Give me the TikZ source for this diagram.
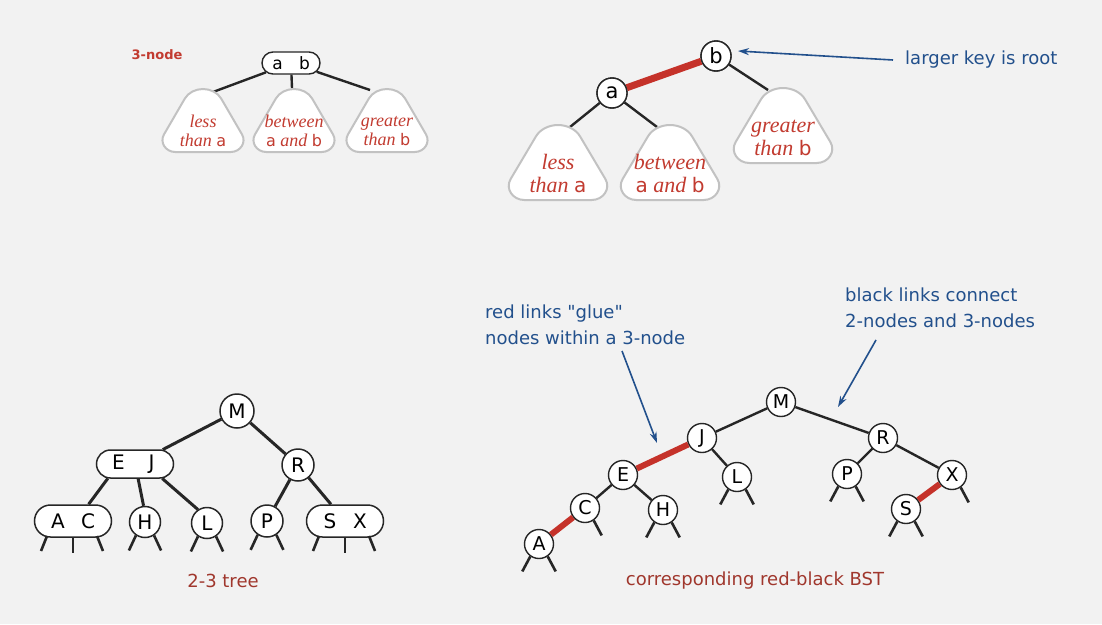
\documentclass[tikz,border=0pt]{standalone}
\usepackage{fontspec}
\newfontfamily\dejavu{DejaVu Sans}
\newfontfamily\serifit{Liberation Serif}
\usetikzlibrary{arrows.meta,shapes.misc,calc}
\definecolor{bg}{HTML}{F2F2F2}
\definecolor{bluec}{HTML}{22508C}
\definecolor{linkred}{HTML}{C5322A}
\definecolor{textred}{HTML}{C23B30}
\definecolor{labred}{HTML}{A0372D}
\definecolor{blobgray}{HTML}{C2C2C2}
\newcommand{\twokeys}[3]{\makebox[0pt]{#1}\hspace{#3pt}\makebox[0pt]{#2}}
% bell-shaped subtree blob: cx, bottom, xscale, yscale
\newcommand{\blob}[4]{%
  \begin{scope}[shift={(#1,#2)}, xscale=#3, yscale=#4]
  \draw[blobst] (0,0) -- (25.9,0) .. controls (35,0) and (40.8,-9.7) .. (36.4,-17.7)
     -- (17,-53.4) .. controls (13.7,-59.5) and (6.95,-63) .. (0,-63)
     .. controls (-6.95,-63) and (-13.7,-59.5) .. (-17,-53.4)
     -- (-36.4,-17.7) .. controls (-40.8,-9.7) and (-35,0) .. (-25.9,0) -- cycle;
  \end{scope}}
\newcommand{\skS}[1]{{\upshape\dejavu\fontsize{16}{16}\selectfont #1}}
\newcommand{\skB}[1]{{\upshape\dejavu\fontsize{20}{20}\selectfont #1}}
\tikzset{
  edge/.style={line width=2.4pt, draw=black!85},
  edgeb/.style={line width=3pt, draw=black!85},
  redlink/.style={line width=6pt, draw=linkred},
  redlinkT/.style={line width=7pt, draw=linkred},
  stubline/.style={line width=2.6pt, draw=black!85},
  blobst/.style={draw=blobgray, line width=2pt, fill=white},
  circT/.style={circle, draw=black!85, line width=1.4pt, fill=white, inner sep=0pt, minimum size=30pt, font=\dejavu\fontsize{21}{21}\selectfont},
  circL/.style={circle, draw=black!85, line width=1.5pt, fill=white, inner sep=0pt, minimum size=32pt, font=\dejavu\fontsize{20}{20}\selectfont},
  circR/.style={circle, draw=black!85, line width=1.4pt, fill=white, inner sep=0pt, minimum size=29pt, font=\dejavu\fontsize{19}{19}\selectfont},
  rrL/.style={rounded rectangle, draw=black!85, line width=1.5pt, fill=white, inner sep=0pt, minimum width=77pt, minimum height=30pt, font=\dejavu\fontsize{20}{20}\selectfont},
  rrT/.style={rounded rectangle, draw=black!85, line width=1.4pt, fill=white, inner sep=0pt, minimum width=58pt, minimum height=22pt, font=\dejavu\fontsize{17}{17}\selectfont},
  blobtxtS/.style={align=center, text=textred, font=\serifit\itshape\fontsize{18}{19}\selectfont, inner sep=0pt},
  blobtxtB/.style={align=center, text=textred, font=\serifit\itshape\fontsize{22}{23}\selectfont, inner sep=0pt},
  bluetext/.style={text=bluec, font=\dejavu\fontsize{18}{26}\selectfont, inner sep=0pt, align=left},
  labtext/.style={text=labred, font=\dejavu\fontsize{18}{18}\selectfont, inner sep=0pt},
  lab3/.style={text=textred, font=\dejavu\bfseries\fontsize{13}{13}\selectfont, inner sep=0pt},
  barrow/.style={draw=bluec, line width=1.6pt, -{Stealth[length=11pt,width=7pt]}}
}
\begin{document}
\begin{tikzpicture}[x=1pt,y=-1pt]
\useasboundingbox (0,0) rectangle (1102,624);
\fill[bg] (0,0) rectangle (1102,624);

% ---------- top-left: 3-node ----------
\node[lab3] (three) at (157,55) {3-node};
\coordinate (tlA) at (213,92);
\coordinate (tlB) at (292,88);
\coordinate (tlC) at (370,90);
\node[rrT] (ab) at (291,63) {\twokeys{a}{b}{27}};
\draw[edge] (ab) -- (tlA);
\draw[edge] (ab) -- (tlB);
\draw[edge] (ab) -- (tlC);
\blob{203}{152}{1.07}{1.0}
\blob{294}{152}{1.07}{1.0}
\blob{387}{152}{1.07}{1.0}
\node[blobtxtS] (tl1) at (203,131) {less\\than \skS{a}};
\node[blobtxtS] (tl2) at (294,131) {between\\\skS{a} and \skS{b}};
\node[blobtxtS] (tl3) at (387,131) {greater\\than \skS{b}};

% ---------- top-right: BST form ----------
\node[circT] (a) at (612,93) {a};
\node[circT] (b) at (716,56) {b};
\coordinate (trA) at (570,127);
\coordinate (trB) at (657,127);
\coordinate (trC) at (768,90);
\draw[edge] (a) -- (trA);
\draw[edge] (a) -- (trB);
\draw[edge] (b) -- (trC);
\draw[redlinkT] (a) -- (b);
\node[circT] at (a) {a};
\node[circT] at (b) {b};
\blob{558}{200}{1.3}{1.19}
\blob{670}{200}{1.3}{1.19}
\blob{783}{163}{1.3}{1.19}
\node[blobtxtB] (tr1) at (558,174) {less\\than \skB{a}};
\node[blobtxtB] (tr2) at (670,174) {between\\\skB{a} and \skB{b}};
\node[blobtxtB] (tr3) at (783,138) {greater\\than \skB{b}};
\coordinate (lkS) at (893,60);
\coordinate (lkE) at (738,51);
\draw[barrow] (lkS) -- (lkE);
\node[bluetext, anchor=west] (lk) at (905,60) {larger key is root};

% ---------- bottom-left: 2-3 tree ----------
\node[circL, minimum size=34pt] (M) at (237,411) {M};
\node[rrL, minimum height=28pt] (EJ) at (135,464) {\twokeys{E}{J}{33}};
\node[circL] (R) at (298,465) {R};
\node[rrL, minimum height=32pt] (AC) at (73,521) {\twokeys{A}{C}{30}};
\node[circL, minimum size=31pt] (H) at (145,522) {H};
\node[circL, minimum size=31pt] (L) at (207,523) {L};
\node[circL] (P) at (267,521) {P};
\node[rrL, minimum height=32pt] (SX) at (345,521) {\twokeys{S}{X}{30}};
\draw[edgeb] (M) -- (EJ);
\draw[edgeb] (M) -- (R);
\draw[edgeb] (EJ.-152) -- (AC.47);
\draw[edgeb] (EJ.-78) -- (H.95);
\draw[edgeb] (EJ.-28) -- (L.124);
\draw[edgeb] (R) -- (P);
\draw[edgeb] (R) -- (SX);
\foreach \n in {AC,SX}{
  \draw[stubline] ($(\n)+(-26,15)$) -- ++(-6,15);
  \draw[stubline] ($(\n)+(0,16)$) -- ++(0,16);
  \draw[stubline] ($(\n)+(24,15)$) -- ++(6,15);
}
\foreach \n in {H,L,P}{
  \draw[stubline] (\n.-124) -- ++(-7,15);
  \draw[stubline] (\n.-56) -- ++(7,15);
}
\node[labtext] (t23) at (223,581) {2-3 tree};

% ---------- bottom-right: red-black BST ----------
\node[circR] (rM) at (781,402) {M};
\node[circR] (rJ) at (702,438) {J};
\node[circR] (rR) at (883,438) {R};
\node[circR] (rE) at (623,475) {E};
\node[circR] (rL) at (737,477) {L};
\node[circR] (rP) at (847,474) {P};
\node[circR] (rX) at (952,475) {X};
\node[circR] (rC) at (585,508) {C};
\node[circR] (rH) at (663,510) {H};
\node[circR] (rS) at (906,509) {S};
\node[circR] (rA) at (539,544) {A};
\draw[edge] (rM) -- (rJ);
\draw[edge] (rM) -- (rR);
\draw[redlink] (rJ) -- (rE);
\draw[edge] (rJ) -- (rL);
\draw[edge] (rR) -- (rP);
\draw[edge] (rR) -- (rX);
\draw[edge] (rE) -- (rC);
\draw[edge] (rE) -- (rH);
\draw[redlink] (rC) -- (rA);
\draw[redlink] (rX) -- (rS);
\foreach \n in {rH,rL,rP,rS,rA}{
  \draw[stubline] (\n.-125) -- ++(-8,15);
  \draw[stubline] (\n.-55) -- ++(8,15);
}
\draw[stubline] (rC.-55) -- ++(8,15);
\draw[stubline] (rX.-55) -- ++(8,15);
\node[labtext] (trb) at (755,581) {corresponding red-black BST};

\node[bluetext, anchor=west] (rl) at (485,325) {red links "glue"\\nodes within a 3-node};
\node[bluetext, anchor=west] (bl) at (845,308) {black links connect\\2-nodes and 3-nodes};
\coordinate (g1s) at (622,351);
\coordinate (g1e) at (657,443);
\coordinate (g2s) at (876,340);
\coordinate (g2e) at (838,407);
\draw[barrow] (g1s) -- (g1e);
\draw[barrow] (g2s) -- (g2e);
\end{tikzpicture}
\end{document}
